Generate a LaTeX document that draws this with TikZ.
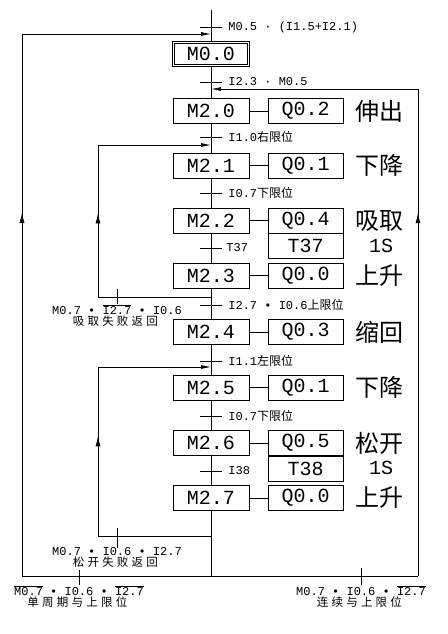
\documentclass[tikz,border=0pt]{standalone}
\usepackage{fontspec}
\setmonofont{Liberation Mono}
\newfontfamily\zhfont{Noto Sans CJK SC}
\newfontfamily\zhwide[LetterSpace=28]{Noto Sans CJK SC}
\usetikzlibrary{arrows.meta, positioning, decorations.markings}
\newcommand\zh[1]{{\zhfont #1}}
\newcommand\ol[1]{$\overline{\mbox{#1}}$}

\begin{document}
\begin{tikzpicture}[x=1pt, y=-1pt, line width=0.7pt,
    stepbox/.style={draw, minimum width=76pt, minimum height=25pt, inner sep=0pt, font=\ttfamily\fontsize{20}{20}\selectfont},
    actbox/.style={stepbox, minimum width=75pt},
    act/.style={inner sep=0pt, font=\zhfont\fontsize{24}{24}\selectfont},
    trlab/.style={anchor=west, inner sep=0pt, font=\ttfamily\fontsize{12}{12}\selectfont},
    brlab/.style={anchor=north, inner sep=0pt, font=\ttfamily\fontsize{12}{12}\selectfont},
    brzh/.style={inner sep=0pt, xshift=-1.6pt, font=\zhwide\fontsize{11.5}{11.5}\selectfont},
    flow/.style={-{Latex[length=10pt,width=4pt]}},
    upmark/.style={postaction={decorate}, decoration={markings, mark=at position #1 with {\arrow{Latex[length=10pt,width=5pt]}}}}
]
\useasboundingbox (0,0) rectangle (447,634);

% steps
\node[stepbox, double, double distance=1.6pt, minimum width=75pt, minimum height=23pt] (m00) at (211,54) {M0.0};
\node[stepbox] (m20) at (211,111) {M2.0};
\node[stepbox] (m21) at (211,165.5) {M2.1};
\node[stepbox] (m22) at (211,220.5) {M2.2};
\node[stepbox] (m23) at (211,275.5) {M2.3};
\node[stepbox] (m24) at (211,332) {M2.4};
\node[stepbox] (m25) at (211,387.5) {M2.5};
\node[stepbox] (m26) at (211,443) {M2.6};
\node[stepbox] (m27) at (211,498) {M2.7};

% actions
\node[actbox] (q02) at (305.5,111) {Q0.2};
\node[actbox] (q01a) at (305.5,165.5) {Q0.1};
\node[actbox] (q04) at (305.5,220.5) {Q0.4};
\node[actbox, below=0pt of q04] (t37) {T37};
\node[actbox] (q00a) at (305.5,275.5) {Q0.0};
\node[actbox] (q03) at (305.5,332) {Q0.3};
\node[actbox] (q01b) at (305.5,387.5) {Q0.1};
\node[actbox] (q05) at (305.5,443) {Q0.5};
\node[actbox, below=0pt of q05] (t38) {T38};
\node[actbox] (q00b) at (305.5,498) {Q0.0};

\node[act] (a20) at (379,111) {伸出};
\node[act] (a21) at (379,165.5) {下降};
\node[act] (a22) at (379,220.5) {吸取};
\node[act] (s37) at (381,245.5) {\ttfamily\fontsize{20}{20}\selectfont 1S};
\node[act] (a23) at (379,275.5) {上升};
\node[act] (a24) at (379,332) {缩回};
\node[act] (a25) at (379,387.5) {下降};
\node[act] (a26) at (379,443) {松开};
\node[act] (s38) at (381,468) {\ttfamily\fontsize{20}{20}\selectfont 1S};
\node[act] (a27) at (379,498) {上升};

\foreach \m/\q in {m20/q02, m21/q01a, m22/q04, m23/q00a, m24/q03, m25/q01b, m26/q05, m27/q00b}
  \draw (\m) -- (\q);

% main line
\coordinate (top) at (211,10);
\coordinate (bot) at (211,576);
\draw (top) -- (m00) -- (m20) -- (m21) -- (m22) -- (m23) -- (m24) -- (m25) -- (m26) -- (m27) -- (bot);

% transitions
\draw (200,27) -- (222,27);
\node[trlab] (c0) at (228,27) {M0.5 · (I1.5+I2.1)};
\draw (200,82) -- (222,82);
\node[trlab] (c1) at (228,82) {I2.3 · M0.5};
\draw (200,137) -- (222,137);
\node[trlab] (c2) at (228,137) {I1.0\zh{右限位}};
\draw (200,193) -- (222,193);
\node[trlab] (c3) at (228,193) {I0.7\zh{下限位}};
\draw (200,248) -- (222,248);
\node[trlab] (c4) at (226,248) {T37};
\draw (200,305) -- (222,305);
\node[trlab] (c5) at (228,305) {I2.7 • I0.6\zh{上限位}};
\draw (200,361) -- (222,361);
\node[trlab] (c6) at (228,361) {I1.1\zh{左限位}};
\draw (200,416) -- (222,416);
\node[trlab] (c7) at (228,416) {I0.7\zh{下限位}};
\draw (200,471) -- (222,471);
\node[trlab] (c8) at (228,471) {I38};

% entry points on the main line
\coordinate (in0) at (211,34);
\coordinate (in1) at (211,89);
\coordinate (in2) at (211,145);
\coordinate (in3) at (211,367);
\coordinate (out1) at (211,297);
\coordinate (out2) at (211,536);
\coordinate (bl) at (22,576);
\coordinate (br) at (418,576);
\coordinate (lo) at (22,34);
\coordinate (ro) at (418,89);
\coordinate (lb1) at (98,297);
\coordinate (li1) at (98,145);
\coordinate (lb2) at (98,536);
\coordinate (li2) at (98,367);

% return loops
\draw (bl) -- (br);
\draw[upmark=0.67] (bl) -- (lo);
\draw[flow] (lo) -- (in0);
\draw[upmark=0.745] (br) -- (ro);
\draw[flow] (ro) -- (in1);
\draw (out1) -- (lb1);
\draw[upmark=0.55] (lb1) -- (li1);
\draw[flow] (li1) -- (in2);
\draw (out2) -- (lb2);
\draw[upmark=0.59] (lb2) -- (li2);
\draw[flow] (li2) -- (in3);

% loop conditions
\node[brlab] (f1) at (117,304) {M0.7 • \ol{I2.7} • I0.6};
\node[brzh, below=0.5pt of f1] (f1z) {吸取失败返回};
\draw (117,289) -- (f1.north);
\node[brlab] (f2) at (117,547.5) {M0.7 • I0.6 • I2.7};
\node[brzh, below=0.5pt of f2] (f2z) {松开失败返回};
\draw (117,528) -- (f2.north);
\node[brlab] (f3) at (79,585) {\ol{M0.7} • I0.6 • \ol{I2.7}};
\node[brzh, below=0.5pt of f3] (f3z) {单周期与上限位};
\draw (79,570) -- (f3.north);
\node[brlab] (f4) at (361,585) {M0.7 • I0.6 • \ol{I2.7}};
\node[brzh, below=0.5pt of f4] (f4z) {连续与上限位};
\draw (361,568) -- (f4.north);
\end{tikzpicture}
\end{document}
